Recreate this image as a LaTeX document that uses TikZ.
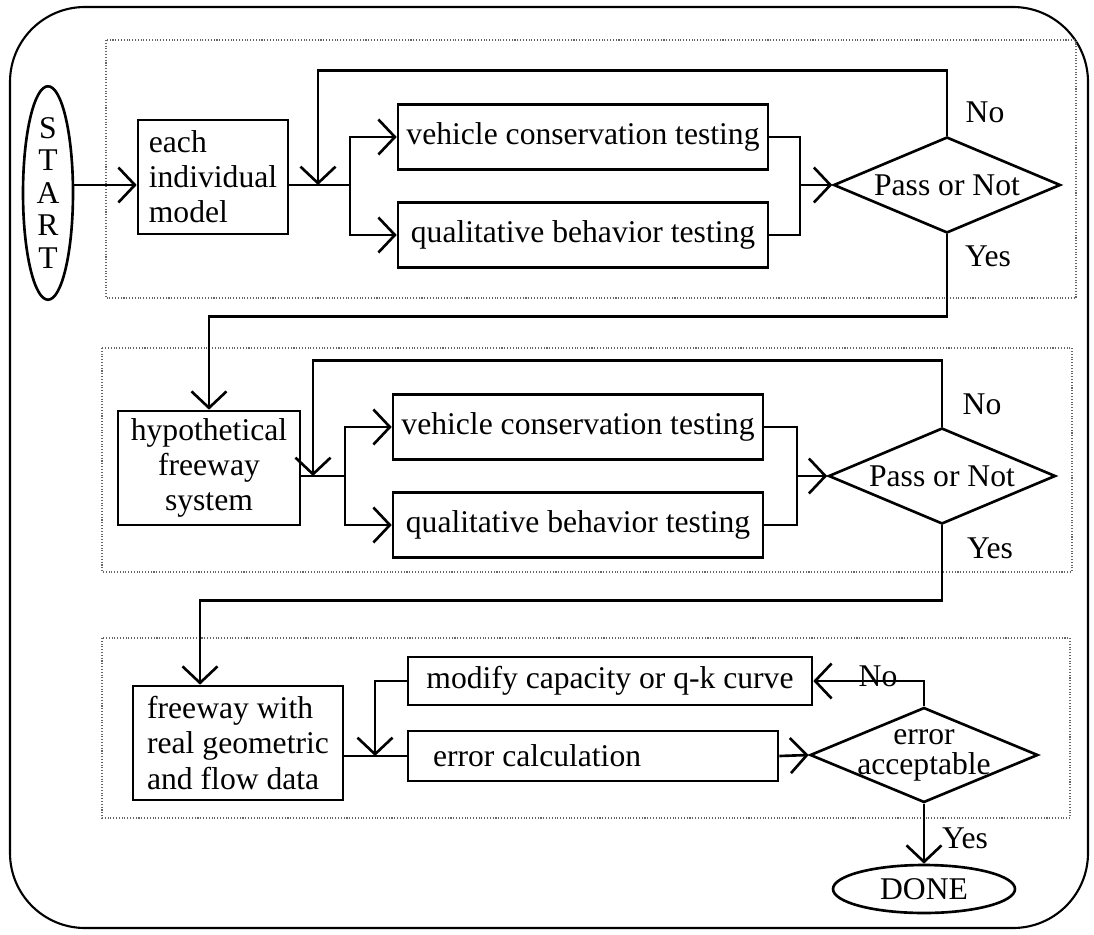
\documentclass[tikz,border=0pt]{standalone}
\usepackage{fontspec}
\setmainfont{Liberation Serif}
\usetikzlibrary{shapes.geometric,arrows.meta,positioning}

\begin{document}
\begin{tikzpicture}[
    x=0.02cm, y=-0.02cm,
    font=\fontsize{18}{20}\selectfont,
    line width=1.5pt,
    box/.style={rectangle, draw, minimum height=1.3cm, inner sep=2pt},
    testbox/.style={box, minimum width=7.4cm},
    stagebox/.style={box, minimum height=2.28cm},
    decision/.style={diamond, draw, inner sep=0pt, minimum width=4.54cm, minimum height=1.92cm},
    term/.style={ellipse, draw, inner sep=0pt},
    lbl/.style={inner sep=1pt},
    arr/.style={-{Straight Barb[length=3.3mm,width=7mm]}},
    group/.style={draw=black!60, line width=0.6pt, densely dotted},
    frame/.style={draw, line width=1.2pt, rounded corners=1.5cm}
]
    \useasboundingbox (0,0) rectangle (1094,935);
    \draw[frame] (10,7) rectangle (1088,928);
    \draw[group] (106,40) rectangle (1076,298);
    \draw[group] (102,348) rectangle (1072,572);
    \draw[group] (102,638) rectangle (1070,818);

    % stage 1: each model
    \node[term, minimum width=1cm, minimum height=3.6cm, align=center, font=\fontsize{18}{18.5}\selectfont] (start) at (48,193) {S\\T\\A\\R\\T};
    \node[stagebox, minimum width=3cm, align=left] (model) at (213,177) {each\\individual\\model};
    \node[testbox] (vct1) at (583,137) {vehicle conservation testing};
    \node[testbox] (qbt1) at (583,235) {qualitative behavior testing};
    \node[decision, label=center:{Pass or Not}] (pass1) at (947,185) {};
    \node[lbl] (no1) at (985,112) {No};
    \node[lbl] (yes1) at (988,256) {Yes};
    \coordinate (j1) at (318,185);
    \coordinate (split1) at (350,185);
    \coordinate (merge1) at (800,185);

    \draw[arr] (start.east |- j1) -- (model.west |- j1);
    \draw (model.east |- j1) -- (split1);
    \draw[arr] (pass1.north) -- ++(0,-65) -| (j1);
    \draw[arr] (split1) |- (vct1.west);
    \draw[arr] (split1) |- (qbt1.west);
    \draw (vct1.east) -| (merge1) |- (qbt1.east);
    \draw[arr] (merge1) -- (pass1.west);

    % stage 2: hypothetical freeway
    \node[stagebox, minimum width=3.64cm, align=center] (hyp) at (209,468) {hypothetical\\freeway\\system};
    \node[testbox] (vct2) at (578,427) {vehicle conservation testing};
    \node[testbox] (qbt2) at (578,525) {qualitative behavior testing};
    \node[decision, label=center:{Pass or Not}] (pass2) at (942,476) {};
    \node[lbl] (no2) at (982,404) {No};
    \node[lbl] (yes2) at (990,548) {Yes};
    \coordinate (j2) at (313,476);
    \coordinate (split2) at (345,476);
    \coordinate (merge2) at (797,476);

    \draw[arr] (pass1.south) -- ++(0,82) -| (hyp.north);
    \draw (hyp.east |- j2) -- (split2);
    \draw[arr] (pass2.north) -- ++(0,-66) -| (j2);
    \draw[arr] (split2) |- (vct2.west);
    \draw[arr] (split2) |- (qbt2.west);
    \draw (vct2.east) -| (merge2) |- (qbt2.east);
    \draw[arr] (merge2) -- (pass2.west);

    % stage 3: real freeway
    \node[stagebox, minimum width=4.2cm, align=left] (flow) at (238,743) {freeway with\\real geometric\\and flow data};
    \node[box, minimum width=8.08cm, minimum height=0.96cm] (mod) at (610,681) {modify capacity or q-k curve};
    \node[box, minimum width=7.4cm, minimum height=1cm] (err) at (593,756) {\makebox[6.4cm][l]{error calculation}};
    \node[decision, minimum width=4.56cm, minimum height=1.9cm, label={[align=center, font=\fontsize{18}{17}\selectfont]center:error\\acceptable}] (accept) at (924,755) {};
    \node[term, minimum width=3.64cm, minimum height=0.96cm] (done) at (924,889) {DONE};
    \node[lbl] (no3) at (878,676) {No};
    \node[lbl] (yes3) at (965,838) {Yes};
    \coordinate (j3) at (375,756);

    \draw[arr] (pass2.south) -- ++(0,75) -| ([xshift=-0.76cm]flow.north);
    \draw (flow.east |- j3) -- (err.west);
    \draw[arr] (mod.west) -| (j3);
    \draw[arr] (err.east) -- (accept.west);
    \draw[arr] (accept.north) |- (mod.east);
    \draw[arr] (accept.south) -- (done.north);
\end{tikzpicture}
\end{document}
